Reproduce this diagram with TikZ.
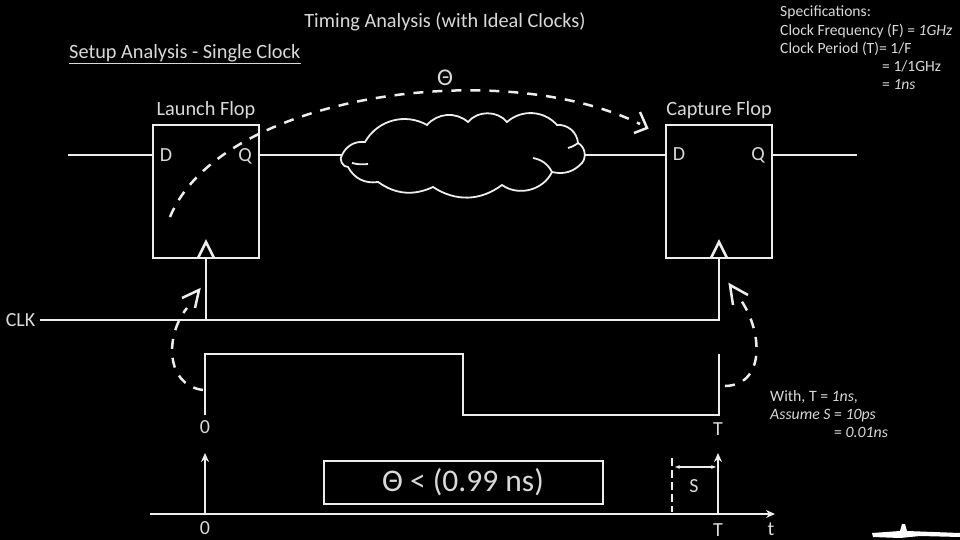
\documentclass[tikz,border=0pt]{standalone}
\usepackage{fontspec}
\setmainfont{Carlito}
\usetikzlibrary{arrows.meta, positioning, calc}
\definecolor{wire}{gray}{0.93}
\definecolor{label}{gray}{0.85}
\tikzset{
  wireline/.style={draw=wire, line width=2.5pt},
  flop/.style={draw=wire, line width=2.5pt, minimum width=106pt, minimum height=133pt, inner sep=0pt},
  pin/.style={text=label, font=\fontsize{20}{22}\selectfont, inner sep=0pt},
  head/.style={text=label, font=\fontsize{20.3}{24}\selectfont, inner sep=0pt},
  spec/.style={text=label, font=\fontsize{15.6}{18.3}\selectfont, inner sep=0pt, align=left},
  dashwire/.style={draw=wire, line width=2.5pt, dash pattern=on 10pt off 9pt},
  arr/.style={-{Stealth[length=9pt, width=8pt]}, wireline},
}
\begin{document}
\begin{tikzpicture}[x=1pt, y=-1pt]
  \fill[black] (0,0) rectangle (960,540);
  \useasboundingbox (0,0) rectangle (960,540);
  % titles
  \node[head] (title) at (445,22) {Timing Analysis (with Ideal Clocks)};
  \node[head, anchor=west] (setup) at (69,54) {\underline{Setup Analysis - Single Clock}};
  \node[spec, anchor=north west] (specs) at (780,6) {Specifications:\\Clock Frequency (F) = \textit{1GHz}\\Clock Period (T)= 1/F};
  \node[spec, anchor=north west] (specs2) at (882,60) {= 1/1GHz\\= \textit{1ns}};
  % flops
  \node[flop] (launch) at (206,191.5) {};
  \node[flop] (capture) at (719,191.5) {};
  \node[head, above=5pt of launch] (launchname) {Launch Flop};
  \node[head, above=5pt of capture] (capturename) {Capture Flop};
  \node[pin] (d1) at (166,155) {D};
  \node[pin] (q1) at (245,156) {Q};
  \node[pin] (d2) at (679,154) {D};
  \node[pin] (q2) at (758,155) {Q};
  % data path
  \node[minimum width=242pt, minimum height=84pt, inner sep=0pt] (logic) at (463,155) {};
  \draw[draw=wire, line width=1.8pt] (342,155) to[bend left=35] (365,142) to[bend left=45] (427,125)
    to[bend left=45] (468,122) to[bend left=50] (507,122) to[bend left=45] (557,125)
    to[bend left=45] (578,143) to[bend left=50] (582,163) to[bend left=30] (552,172)
    to[bend left=50] (502,185) to[bend left=35] (433,187) to[bend left=30] (378,182)
    to[bend left=35] (348,167) to[bend left=70] (342,155) -- cycle;
  \draw[draw=wire, line width=1.8pt] (533,158) to[bend left=25] (552,172);
  \draw[draw=wire, line width=1.8pt] (368,164) to[bend left=10] (352,163);
  \draw[draw=wire, line width=1.8pt] (568,148) to[bend right=10] (578,143);
  \coordinate (in1) at (68,155);
  \coordinate (out2) at (857,155);
  \draw[wireline] (in1) -- (launch.west |- in1);
  \draw[wireline] (launch.east |- logic.west) -- (logic.west);
  \draw[wireline] (logic.east) -- (capture.west |- logic.east);
  \draw[wireline] (capture.east |- out2) -- (out2);
  % clock
  \node[pin] (clk) at (20.5,320) {CLK};
  \coordinate (clk1) at (206,320);
  \coordinate (clk2) at (719,320);
  \draw[wireline] (clk.east) ++(4.5,0) -- (clk2) -- (capture.south);
  \draw[wireline] (clk1) -- (launch.south);
  \draw[wireline] (198,258) -- (206,242) -- (214,258);
  \draw[wireline] (711,258) -- (719,242) -- (727,258);
  % waveform
  \node[pin] (zero) at (205,427) {0};
  \node[pin] (per) at (718,429) {T};
  \draw[wireline] (205,415) |- (463,354) -- (463,415) -| (719,354);
  % timeline
  \node[pin] (zerob) at (205,528) {0};
  \node[pin] (perb) at (718,530) {T};
  \node[pin] (tlab) at (771,529) {t};
  \coordinate (axis0) at (150,514);
  \coordinate (axis1) at (775,514);
  \draw[arr] (axis0) -- (axis1);
  \draw[arr] (205,514) -- (205,453);
  \draw[arr] (718,514) -- (718,453);
  \draw[dashwire, dash pattern=on 8pt off 4pt] (672,458) -- (672,512);
  \draw[draw=wire, line width=1.5pt, {Stealth[length=5pt]}-{Stealth[length=5pt]}] (675,467) -- (716,467);
  \node[pin] (setuplab) at (694,486) {S};
  \node[draw=wire, line width=2pt, text=label, minimum width=279pt, minimum height=43pt,
        font=\fontsize{31.5}{34}\selectfont] (result) at (463,482) {Θ < (0.99 ns)};
  \node[spec, anchor=north west, font=\fontsize{15.8}{18.3}\selectfont] (with) at (770,390) {With, T = \textit{1ns},\\\textit{Assume S} = \textit{10ps}};
  \node[spec, anchor=north west, font=\fontsize{15.8}{18.3}\selectfont] (with2) at (834,427) {= \textit{0.01ns}};
  % delay arcs
  \node[head, font=\fontsize{24}{26}\selectfont] (theta) at (445,78) {Θ};
  \coordinate (arcstart) at (170,217);
  \coordinate (arcend) at (640,124);
  \draw[dashwire] (arcstart) .. controls (220,95) and (500,55) .. (arcend);
  \draw[wireline] (640,112) -- (647,128) -- (634,133);
  \draw[dashwire] (203,390) .. controls (165,385) and (165,335) .. (187,308);
  \draw[wireline] (182,298) -- (199,290) -- (195,308);
  \draw[dashwire] (725,386) .. controls (768,385) and (762,325) .. (737,295);
  \draw[wireline] (748,295) -- (730,285) -- (733,305);
  % corner
  \fill[white] (872,533) -- (900,531) -- (902,524) -- (905,524) -- (907,531) -- (960,533) -- (960,537) -- (920,536) -- (900,538) -- (873,537) -- cycle;
\end{tikzpicture}
\end{document}
